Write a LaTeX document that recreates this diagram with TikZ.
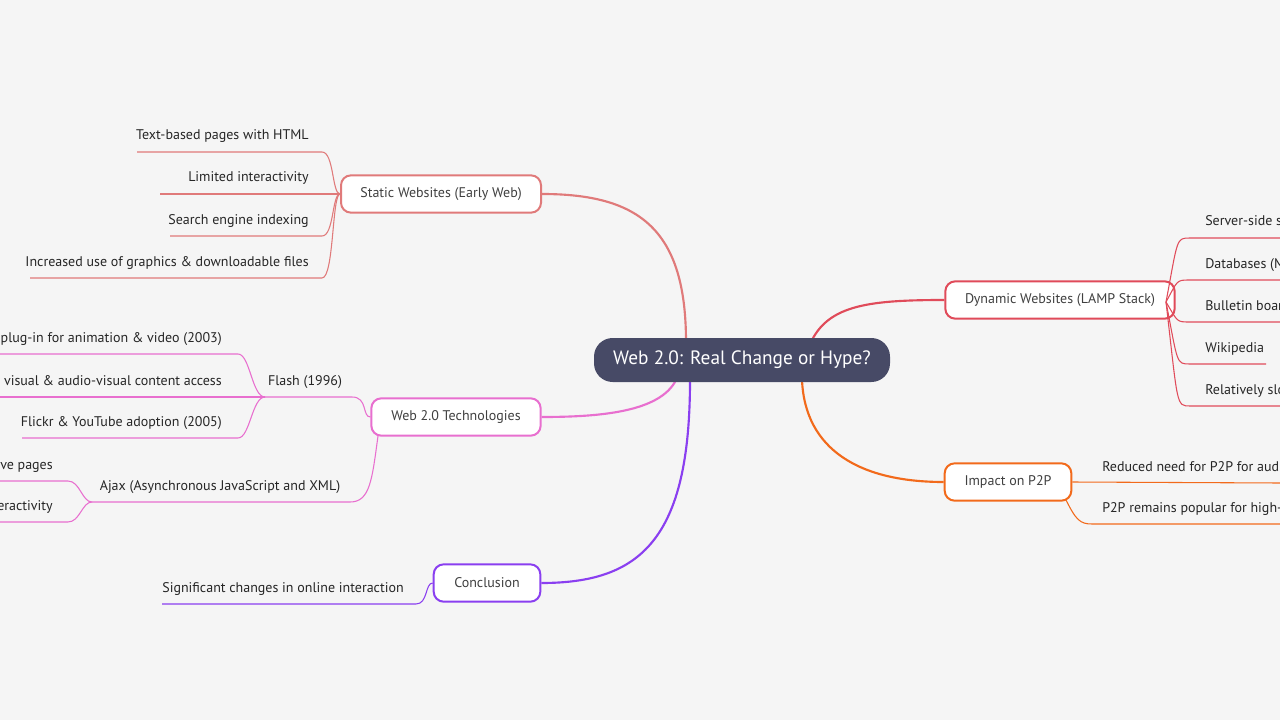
\documentclass[tikz,border=0pt]{standalone}
\usepackage{fontspec}
\setmainfont{PT Sans}
\begin{document}
\begin{tikzpicture}[x=0.75pt,y=-0.75pt,
  box/.style={draw=#1,line width=1.5pt,fill=white,rounded corners=7.5pt,minimum height=28pt,inner xsep=11pt,font=\fontsize{10.5}{12}\selectfont,text=black!75},
  lbl/.style={font=\fontsize{10.5}{12}\selectfont,text=black!85,inner sep=0pt},
  br/.style={draw=#1,line width=1.6pt},
  lf/.style={draw=#1,line width=0.8pt}]
\definecolor{cst}{HTML}{E07A7A}
\definecolor{ctech}{HTML}{E86FCF}
\definecolor{ccon}{HTML}{8A3FF0}
\definecolor{cdyn}{HTML}{E04B5A}
\definecolor{cp2p}{HTML}{F26A1B}
\definecolor{croot}{HTML}{474A66}
\fill[black!4] (0,0) rectangle (1280,720);
\useasboundingbox (0,0) rectangle (1280,720);
\clip (0,0) rectangle (1280,720);
% branches
\coordinate (r1) at (686,342);
\coordinate (r2) at (676,380);
\coordinate (r3) at (690,380);
\coordinate (r4) at (812,340);
\coordinate (r5) at (802,380);
\node[box=cst,minimum width=150pt] (st) at (441,194) {Static Websites (Early Web)};
\node[box=ctech,minimum width=127pt] (te) at (456,417) {Web 2.0 Technologies};
\node[box=ccon,minimum width=80pt] (co) at (487,583) {Conclusion};
\node[box=cdyn,minimum width=172pt] (dy) at (1060,300) {Dynamic Websites (LAMP Stack)};
\node[box=cp2p,minimum width=95pt] (pp) at (1008,482) {Impact on P2P};
\draw[br=cst] (r1) .. controls (686,230) and (640,194) .. (st.east);
\draw[br=ctech] (r2) .. controls (660,412) and (600,417) .. (te.east);
\draw[br=ccon] (r3) .. controls (690,540) and (640,583) .. (co.east);
\draw[br=cdyn] (r4) .. controls (830,305) and (870,300) .. (dy.west);
\draw[br=cp2p] (r5) .. controls (805,450) and (860,482) .. (pp.west);
\node[fill=croot,rounded corners=14pt,minimum width=222pt,minimum height=33pt,font=\fontsize{14.5}{16}\selectfont,text=white] (root) at (742,360) {Web 2.0: Real Change or Hype?};
% static leaves
\foreach \t/\y/\xl in {Text-based pages with HTML/152/137, Limited interactivity/194/160, Search engine indexing/236/170, Increased use of graphics \& downloadable files/278/30}{
  \draw[lf=cst] (st.west) .. controls (332,194) and (334,\y) .. (322,\y) -- (\xl,\y);
  \node[lbl,anchor=base east] at (309,\y-12) {\t};
}
% flash
\coordinate (fj) at (265,397);
\draw[lf=ctech] (te.west) .. controls (362,417) and (368,397) .. (352,397) -- (fj);
\node[lbl,anchor=base] at (305,385) {Flash (1996)};
\foreach \t/\y/\xl in {Browser plug-in for animation \& video (2003)/354/0, Improved visual \& audio-visual content access/397/0, Flickr \& YouTube adoption (2005)/438/22}{
  \draw[lf=ctech] (fj) .. controls (252,397) and (250,\y) .. (238,\y) -- (\xl,\y);
  \node[lbl,anchor=base east] at (222,\y-12) {\t};
}
% ajax
\coordinate (aj) at (92,502);
\draw[lf=ctech] (378,436) .. controls (372,480) and (370,502) .. (350,502) -- (aj);
\node[lbl,anchor=base] at (220,490) {Ajax (Asynchronous JavaScript and XML)};
\foreach \t/\y in {Interactive pages/481, Improved interactivity/522}{
  \draw[lf=ctech] (aj) .. controls (82,502) and (80,\y) .. (68,\y) -- (0,\y);
  \node[lbl,anchor=base east] at (53,\y-12) {\t};
}
% conclusion
\draw[lf=ccon] (co.west) .. controls (425,583) and (428,604) .. (416,604) -- (162,604);
\node[lbl,anchor=base] at (283,592) {Significant changes in online interaction};
% dynamic leaves
\foreach \t/\y/\xr in {Server-side scripting (PHP)/238/1280, Databases (MySQL)/280/1280, Bulletin boards \& forums/322/1280, Wikipedia/364/1266, Relatively slow page loads/406/1280}{
  \draw[lf=cdyn] (1166,302) .. controls (1178,\y) and (1176,\y) .. (1190,\y) -- (\xr,\y);
  \node[lbl,anchor=base west] at (1205,\y-12) {\t};
}
% p2p leaves
\draw[lf=cp2p] (pp.east) -- (1280,483);
\node[lbl,anchor=base west] at (1102,471) {Reduced need for P2P for audio-visual content};
\draw[lf=cp2p] (1066,500) .. controls (1076,520) and (1080,524) .. (1092,524) -- (1280,524);
\node[lbl,anchor=base west] at (1102,512) {P2P remains popular for high-quality files};
\end{tikzpicture}
\end{document}
